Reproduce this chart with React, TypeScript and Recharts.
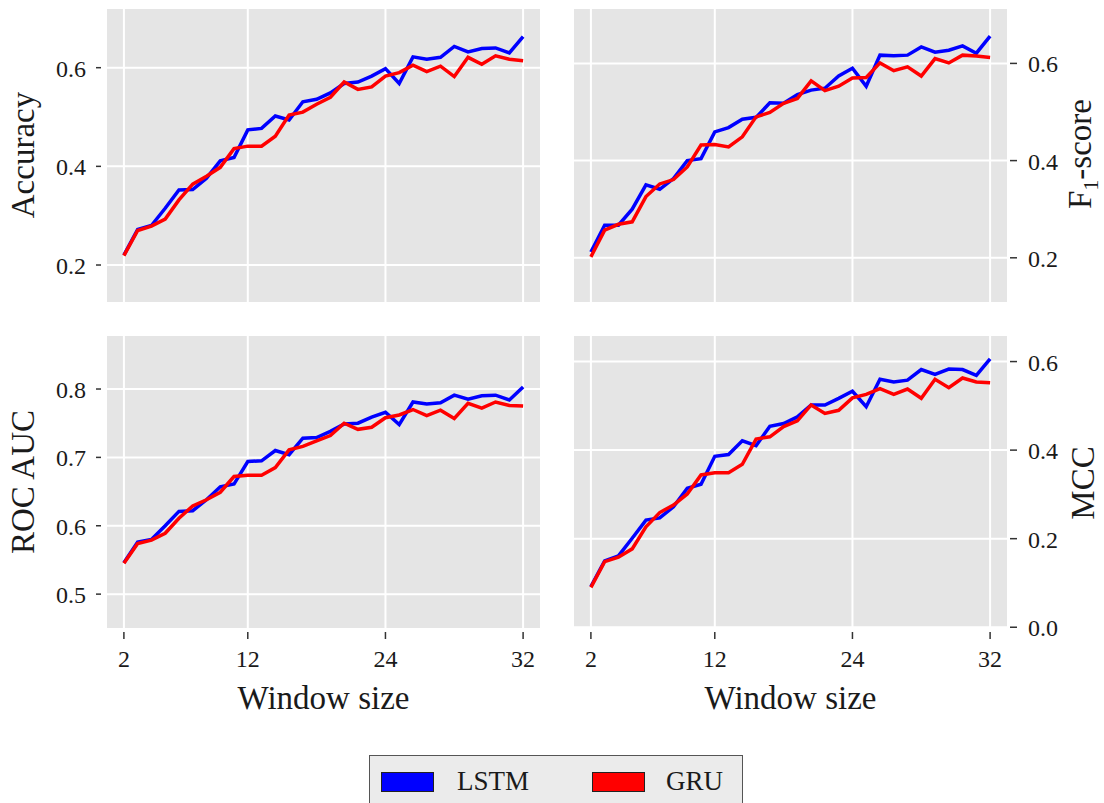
// App.tsx — 2x2 panel of LSTM vs GRU metrics over window size
import { LineChart, Line, XAxis, YAxis, CartesianGrid } from "recharts";

const FONT = '"Liberation Serif", "DejaVu Serif", serif';

// positions along the x axis (one per window size run)
const WINDOW_POS = [0, 1, 2, 3, 4, 5, 6, 7, 8, 9, 10, 11, 12, 13, 14, 15, 16, 17, 18, 19, 20, 21, 22, 23, 24, 25, 26, 27, 28, 29];
const X_TICKS = [0, 9, 19, 29];
const X_TICK_LABELS = ["2", "12", "24", "32"];

const ACC_LSTM = [0.220, 0.272, 0.280, 0.315, 0.352, 0.353, 0.376, 0.411, 0.418, 0.474, 0.477, 0.502, 0.494, 0.531, 0.536, 0.549, 0.568, 0.571, 0.583, 0.598, 0.568, 0.622, 0.617, 0.621, 0.643, 0.632, 0.639, 0.640, 0.630, 0.663];
const ACC_GRU = [0.219, 0.270, 0.279, 0.293, 0.332, 0.364, 0.380, 0.398, 0.436, 0.441, 0.441, 0.461, 0.504, 0.510, 0.526, 0.540, 0.571, 0.556, 0.561, 0.583, 0.590, 0.605, 0.592, 0.603, 0.582, 0.621, 0.607, 0.624, 0.617, 0.614];
const F1_LSTM = [0.212, 0.267, 0.267, 0.300, 0.350, 0.341, 0.363, 0.400, 0.404, 0.459, 0.468, 0.485, 0.489, 0.519, 0.518, 0.536, 0.545, 0.549, 0.574, 0.590, 0.553, 0.617, 0.616, 0.617, 0.634, 0.623, 0.627, 0.636, 0.621, 0.656];
const F1_GRU = [0.202, 0.257, 0.269, 0.274, 0.326, 0.352, 0.361, 0.387, 0.432, 0.433, 0.428, 0.449, 0.490, 0.499, 0.518, 0.528, 0.564, 0.544, 0.553, 0.570, 0.571, 0.601, 0.585, 0.593, 0.574, 0.610, 0.601, 0.617, 0.615, 0.612];
const AUC_LSTM = [0.546, 0.576, 0.580, 0.600, 0.621, 0.622, 0.638, 0.657, 0.661, 0.694, 0.695, 0.710, 0.704, 0.728, 0.729, 0.738, 0.749, 0.750, 0.759, 0.766, 0.748, 0.781, 0.778, 0.780, 0.791, 0.785, 0.790, 0.791, 0.784, 0.803];
const AUC_GRU = [0.545, 0.574, 0.579, 0.589, 0.611, 0.629, 0.638, 0.649, 0.672, 0.674, 0.674, 0.685, 0.711, 0.716, 0.724, 0.732, 0.750, 0.741, 0.744, 0.758, 0.762, 0.770, 0.761, 0.769, 0.757, 0.779, 0.772, 0.781, 0.776, 0.775];
const MCC_LSTM = [0.092, 0.150, 0.161, 0.201, 0.242, 0.247, 0.272, 0.314, 0.323, 0.386, 0.390, 0.421, 0.410, 0.454, 0.460, 0.475, 0.502, 0.502, 0.517, 0.533, 0.498, 0.560, 0.554, 0.558, 0.582, 0.571, 0.583, 0.582, 0.569, 0.606];
const MCC_GRU = [0.090, 0.148, 0.158, 0.177, 0.227, 0.259, 0.276, 0.301, 0.344, 0.349, 0.349, 0.368, 0.425, 0.430, 0.453, 0.466, 0.502, 0.483, 0.490, 0.518, 0.526, 0.539, 0.526, 0.538, 0.517, 0.560, 0.541, 0.563, 0.554, 0.552];

const SERIES = [
  { key: "lstm", name: "LSTM", color: "#0000FF" },
  { key: "gru", name: "GRU", color: "#FF0000" },
];

const buildData = (lstm: number[], gru: number[]) =>
  WINDOW_POS.map((x, i) => ({ x, lstm: lstm[i], gru: gru[i] }));

// y tick: short dash plus label, placed off the panel edge like ggplot
function YTick(props: any) {
  const { y, payload, side, edge } = props;
  const label = Number(payload.value).toFixed(1);
  if (side === "left") {
    return (
      <g>
        <line x1={edge - 10} x2={edge - 5} y1={y} y2={y} stroke="#333" strokeWidth={1.5} />
        <text x={edge - 20} y={y + 9} textAnchor="end" fontSize={24} fontFamily={FONT} fill="#1a1a1a">{label}</text>
      </g>
    );
  }
  return (
    <g>
      <line x1={edge + 2} x2={edge + 9} y1={y} y2={y} stroke="#333" strokeWidth={1.5} />
      <text x={edge + 20} y={y + 9} textAnchor="start" fontSize={24} fontFamily={FONT} fill="#1a1a1a">{label}</text>
    </g>
  );
}

function XTick(props: any) {
  const { x, payload, bottom } = props;
  const idx = X_TICKS.indexOf(payload.value);
  return (
    <g>
      <line x1={x} x2={x} y1={bottom + 3} y2={bottom + 10} stroke="#333" strokeWidth={1.5} />
      <text x={x} y={bottom + 38} textAnchor="middle" fontSize={24} fontFamily={FONT} fill="#1a1a1a">{X_TICK_LABELS[idx]}</text>
    </g>
  );
}

type PanelProps = {
  left: number;
  top: number;
  width: number;
  height: number;
  margin: { top: number; right: number; bottom: number; left: number };
  lstm: number[];
  gru: number[];
  domain: [number, number];
  yTicks: number[];
  side: "left" | "right";
  edge: number;
  showX: boolean;
  bottom: number;
};

function Panel(p: PanelProps) {
  const data = buildData(p.lstm, p.gru);
  return (
    <div style={{ position: "absolute", left: p.left, top: p.top }}>
      <LineChart width={p.width} height={p.height} data={data} margin={p.margin}>
        <CartesianGrid fill="#E5E5E5" stroke="#FFFFFF" strokeWidth={2} />
        <XAxis
          dataKey="x"
          type="number"
          domain={[-1.3, 30.3]}
          ticks={X_TICKS}
          allowDataOverflow
          hide={!p.showX}
          height={91}
          axisLine={false}
          tickLine={false}
          interval={0}
          tick={(t: any) => <XTick {...t} bottom={p.bottom} />}
        />
        <YAxis
          type="number"
          orientation={p.side}
          domain={p.domain}
          ticks={p.yTicks}
          allowDataOverflow
          width={p.side === "left" ? 106 : 96}
          axisLine={false}
          tickLine={false}
          interval={0}
          tick={(t: any) => <YTick {...t} side={p.side} edge={p.edge} />}
        />
        {SERIES.map(s => (
          <Line
            key={s.key}
            type="linear"
            dataKey={s.key}
            stroke={s.color}
            strokeWidth={3.5}
            dot={false}
            activeDot={false}
            isAnimationActive={false}
          />
        ))}
      </LineChart>
    </div>
  );
}

function VTitle({ cx, cy, children }: { cx: number; cy: number; children: any }) {
  return (
    <div
      style={{
        position: "absolute",
        left: cx,
        top: cy,
        transform: "translate(-50%, -50%) rotate(-90deg)",
        fontFamily: FONT,
        fontSize: 33,
        lineHeight: 1,
        whiteSpace: "nowrap",
        color: "#1a1a1a",
      }}
    >
      {children}
    </div>
  );
}

function HTitle({ cx, top, children }: { cx: number; top: number; children: any }) {
  return (
    <div
      style={{
        position: "absolute",
        left: cx,
        top,
        transform: "translateX(-50%)",
        fontFamily: FONT,
        fontSize: 33,
        lineHeight: 1,
        whiteSpace: "nowrap",
        color: "#1a1a1a",
      }}
    >
      {children}
    </div>
  );
}

export default function App() {
  return (
    <div style={{ position: "absolute", left: 0, top: 0, width: 1104, height: 803, background: "#fff", overflow: "hidden" }}>
      {/* top row */}
      <Panel left={0} top={0} width={560} height={320} margin={{ top: 8, right: 19, bottom: 17, left: 0 }}
        lstm={ACC_LSTM} gru={ACC_GRU} domain={[0.123, 0.721]} yTicks={[0.2, 0.4, 0.6]}
        side="left" edge={106} showX={false} bottom={303} />
      <Panel left={560} top={0} width={544} height={320} margin={{ top: 8, right: 0, bottom: 17, left: 13 }}
        lstm={F1_LSTM} gru={F1_GRU} domain={[0.107, 0.714]} yTicks={[0.2, 0.4, 0.6]}
        side="right" edge={448} showX={false} bottom={303} />
      {/* bottom row */}
      <Panel left={0} top={320} width={560} height={400} margin={{ top: 15, right: 19, bottom: 0, left: 0 }}
        lstm={AUC_LSTM} gru={AUC_GRU} domain={[0.449, 0.879]} yTicks={[0.5, 0.6, 0.7, 0.8]}
        side="left" edge={106} showX={true} bottom={309} />
      <Panel left={560} top={320} width={544} height={400} margin={{ top: 15, right: 0, bottom: 0, left: 13 }}
        lstm={MCC_LSTM} gru={MCC_GRU} domain={[-0.004, 0.66]} yTicks={[0.0, 0.2, 0.4, 0.6]}
        side="right" edge={448} showX={true} bottom={309} />

      {/* axis titles */}
      <VTitle cx={23} cy={155}>Accuracy</VTitle>
      <VTitle cx={23} cy={482}>ROC AUC</VTitle>
      <VTitle cx={1083} cy={154}>F<sub style={{ fontSize: 22 }}>1</sub>-score</VTitle>
      <VTitle cx={1083} cy={483}>MCC</VTitle>
      <HTitle cx={323.5} top={682}>Window size</HTitle>
      <HTitle cx={790.5} top={682}>Window size</HTitle>

      {/* legend */}
      <div style={{ position: "absolute", left: 369, top: 755, width: 372, height: 60, background: "#EBEBEB", border: "1.5px solid #555" }}>
        {SERIES.map((s, i) => (
          <div key={s.key} style={{ position: "absolute", left: i === 0 ? 11 : 222, top: 12, display: "flex", alignItems: "center" }}>
            <div style={{ width: 53, height: 20, background: s.color, border: "1px solid #222", boxSizing: "border-box" }} />
            <span style={{ marginLeft: i === 0 ? 23 : 21, fontFamily: FONT, fontSize: 27, lineHeight: 1, color: "#1a1a1a" }}>{s.name}</span>
          </div>
        ))}
      </div>
    </div>
  );
}
